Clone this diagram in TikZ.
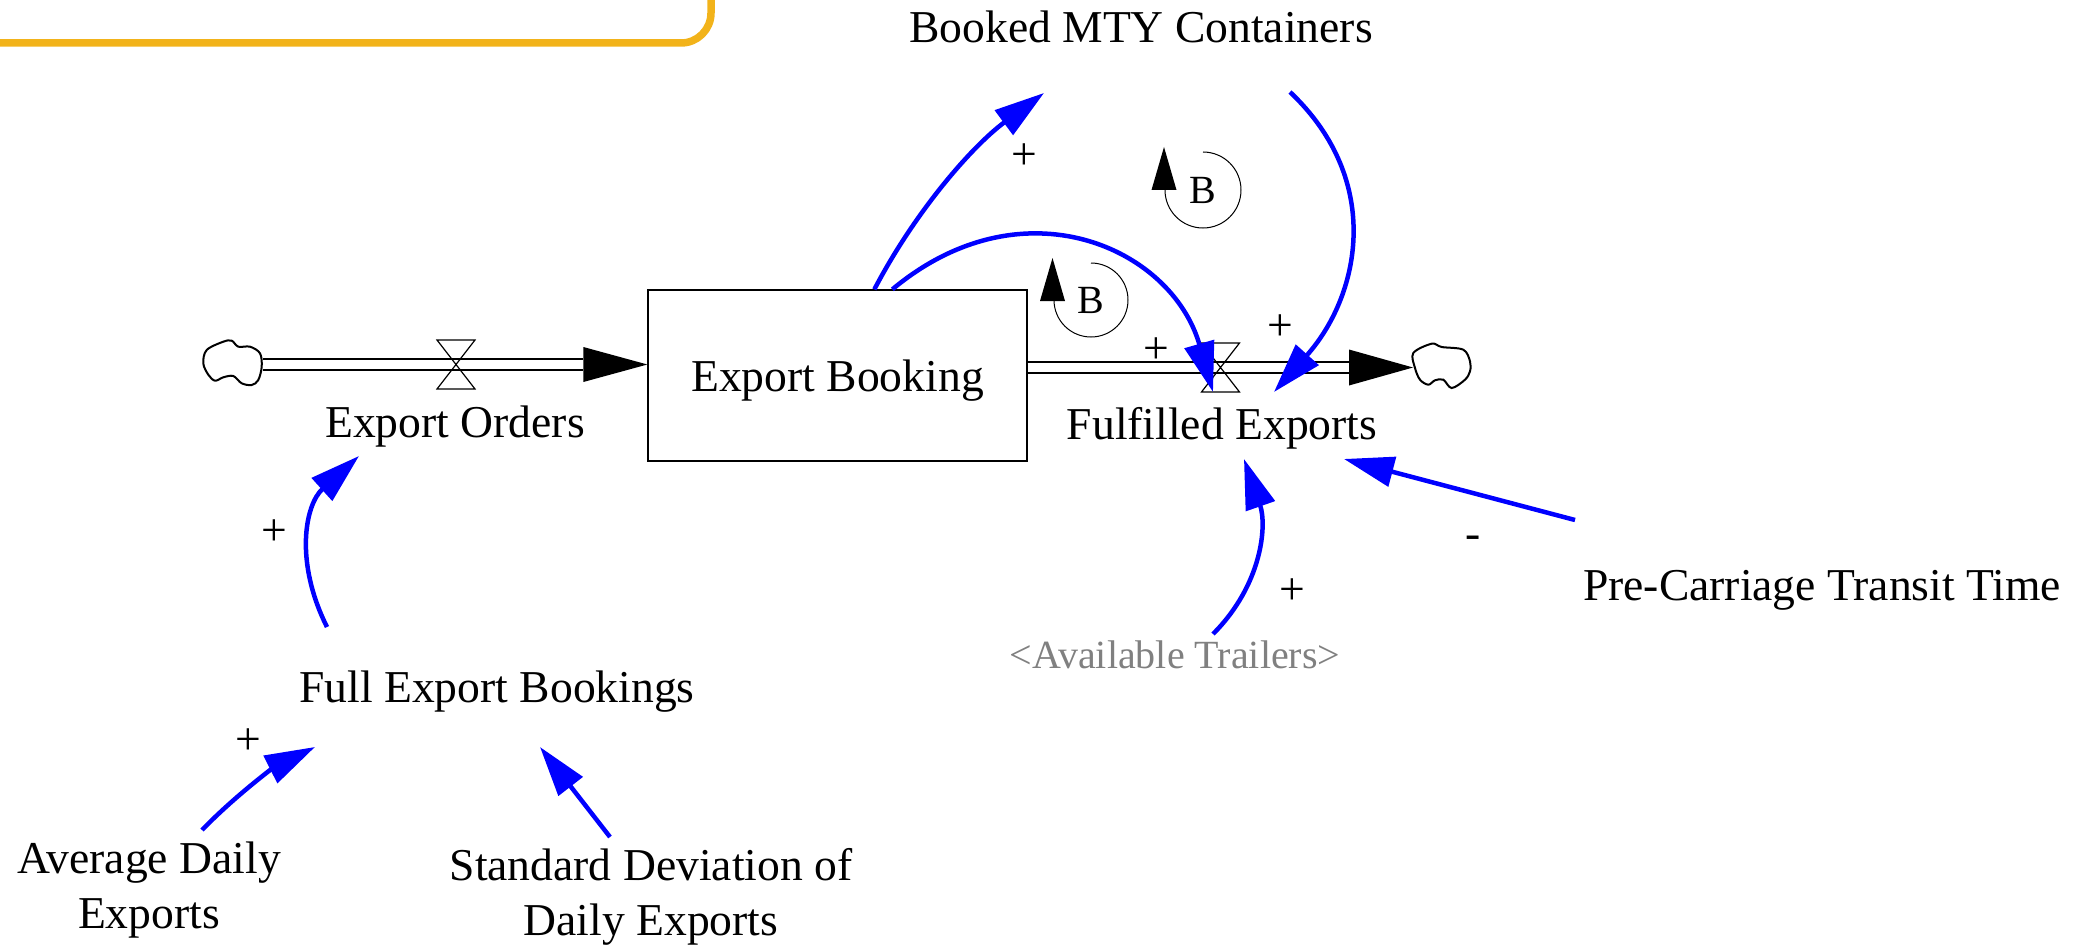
\documentclass[tikz,border=0pt]{standalone}
\usepackage{fontspec}
\setmainfont{Liberation Serif}
\usetikzlibrary{calc,arrows.meta}
\definecolor{linkblue}{RGB}{0,0,255}
\definecolor{frameyellow}{RGB}{242,179,26}
\definecolor{ghost}{RGB}{128,128,128}
\begin{document}
\begin{tikzpicture}[x=0.5pt,y=-0.5pt,
  txt/.style={font=\fontsize{22.8}{27.4}\selectfont, inner sep=0pt, anchor=base},
  ghosttxt/.style={font=\fontsize{20}{24}\selectfont, inner sep=0pt, anchor=base, text=ghost},
  sign/.style={font=\fontsize{22.8}{27.4}\selectfont, inner sep=0pt},
  looplbl/.style={font=\fontsize{20}{24}\selectfont, inner sep=0pt},
  link/.style={draw=linkblue, line width=2.25pt, -{Triangle[length=25pt,width=15pt]}},
  pipe/.style={line width=0.65pt, double, double distance=4.85pt},
  valveline/.style={line width=0.6pt},
  cloudline/.style={line width=1pt},
  loopline/.style={line width=0.5pt},
  stockbox/.style={draw, line width=0.65pt, minimum width=189.5pt, minimum height=85.5pt,
    inner sep=0pt, text height=15.5pt, text depth=0pt, font=\fontsize{22.8}{27.4}\selectfont}
]
\clip (0,0) rectangle (2090,947);
\useasboundingbox (0,0) rectangle (2090,947);

% frame corner
\draw[frameyellow, line width=3.75pt, rounded corners=15pt] (-20,43) -- (711,43) -- (711,-20);

% stock and texts
\node[stockbox] (booking) at (837.5,375.5) {Export Booking};
\node[txt] (eo) at (455,437) {Export Orders};
\node[txt] (fe) at (1222,439) {Fulfilled Exports};
\node[txt] (mty) at (1141,43) {Booked MTY Containers};
\node[txt] (feb) at (497,702) {Full Export Bookings};
\node[txt, align=center] (ade) at (149,928) {Average Daily\\Exports};
\node[txt, align=center] (sdde) at (651,935) {Standard Deviation of\\Daily Exports};
\node[txt] (pct) at (1822,600) {Pre-Carriage Transit Time};
\node[ghosttxt] (trl) at (1175,668) {<Available Trailers>};

% clouds and valves
\coordinate (src) at (233,363);
\coordinate (snk) at (1443,366);
\coordinate (v1) at (456,364.5);
\coordinate (v2) at (1220.5,367.5);

\draw[cloudline, shift={(src)}] plot[smooth cycle, tension=0.55] coordinates
 {(-26.3,-13) (-9.7,-21.3) (-1.3,-22.3) (5.3,-16.3) (17,-16.3) (27,-9.7) (28.7,3.7) (25.3,17)
  (18.7,22) (8.7,20.3) (0.3,13) (-9.7,14.3) (-18,17.7) (-24.7,11.7) (-29.7,0.3)};
\draw[cloudline, shift={(snk)}] plot[smooth cycle, tension=0.55] coordinates
 {(-29.7,-13) (-11.3,-22.3) (-1.3,-19) (20.3,-16.3) (27,-4.7) (27,5.3) (22,13.7) (8.7,22)
  (0.3,13.7) (-8,14.3) (-14.7,18.7) (-23,13.7) (-28,2)};

% pipes
\draw[pipe] ($(src)+(30,1.5)$) -- ($(booking.west)+(-64,-11)$);
\fill ($(booking.west)+(-64,-28.5)$) -- ($(booking.west)+(0,-11)$) -- ($(booking.west)+(-64,6.5)$) -- cycle;
\draw[pipe] ($(booking.east)+(0,-8)$) -- ($(snk)+(-94,1.5)$);
\fill ($(snk)+(-94,-16.5)$) -- ($(snk)+(-30,1.5)$) -- ($(snk)+(-94,19.5)$) -- cycle;

\draw[valveline] ($(v1)+(-19,-24.5)$) -- ++(38,0) -- ($(v1)+(-19,24.5)$) -- ++(38,0) -- cycle;
\draw[valveline] ($(v2)+(-19,-24.5)$) -- ++(38,0) -- ($(v2)+(-19,24.5)$) -- ++(38,0) -- cycle;

% loops
\node[looplbl] (b1) at (1091,300) {B};
\node[looplbl] (b2) at (1203,190) {B};
\draw[loopline] ($(b1)+(0,-37)$) arc[start angle=-90, end angle=180, radius=37];
\fill ($(b1)+(-38.5,-42)$) -- ($(b1)+(-51,1)$) -- ($(b1)+(-26,1)$) -- cycle;
\draw[loopline] ($(b2)+(0,-38)$) arc[start angle=-90, end angle=180, radius=38];
\fill ($(b2)+(-39,-43)$) -- ($(b2)+(-51.5,0)$) -- ($(b2)+(-26.5,0)$) -- cycle;

% links
\draw[link] ($(feb.base)+(-170,-75)$) .. controls +(-32.7,-65.3) and +(-54,48.7) .. ($(eo.base)+(-96,19)$);
\draw[link] ($(ade.base)+(53,-98)$) .. controls +(33,-34) and +(-42.3,21.3) .. ($(feb.base)+(-182,45)$);
\draw[link] ($(sdde.base)+(-41,-98)$) -- ($(feb.base)+(43,45)$);
\draw[link] ($(booking.north west)+(227,0)$) .. controls +(41,-78.3) and +(-71.7,53) .. ($(mty.base)+(-97,50)$);
\draw[link] ($(booking.north west)+(245,0)$) .. controls +(130.6,-109) and +(-41.3,-144.3) .. ($(v2)+(-7.5,24.5)$);
\draw[link] ($(mty.base)+(149,49)$) .. controls +(95,90) and +(85,-95) .. ($(fe.base)+(52,-47)$);
\draw[link] ($(trl.base)+(38,-34)$) .. controls +(49.5,-49.5) and +(23,66) .. ($(fe.base)+(22,20)$);
\draw[link] ($(pct.base)+(-247,-80)$) -- ($(fe.base)+(122,20)$);

% polarity signs
\node[sign] (s1) at (1024,157) {+};
\node[sign] (s2) at (1156,351) {+};
\node[sign] (s3) at (1280,328) {+};
\node[sign] (s4) at (274,533) {+};
\node[sign] (s5) at (248,742) {+};
\node[sign] (s6) at (1292,592) {+};
\node[sign] (s7) at (1473,542) {-};
\end{tikzpicture}
\end{document}
